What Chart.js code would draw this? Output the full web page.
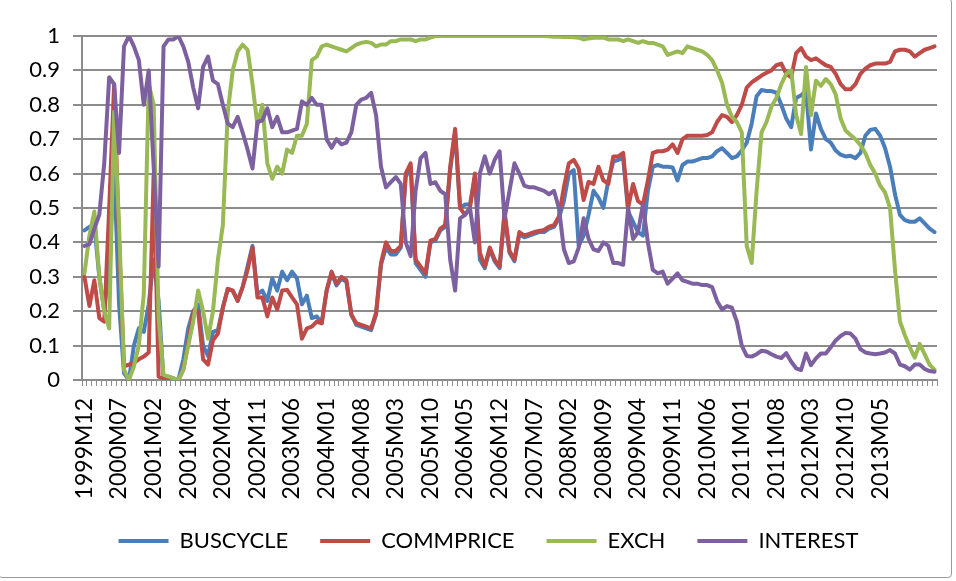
<!DOCTYPE html>
<html>
<head>
<meta charset="utf-8">
<script src="https://cdn.jsdelivr.net/npm/chart.js@4/dist/chart.umd.min.js"></script>
<style>
  html, body { margin: 0; padding: 0; background: #ffffff; }
  #wrap { position: relative; width: 956px; height: 581px; }
  #frame { position: absolute; left: -2px; top: -2px; width: 954px; height: 580px; border: 1px solid #9a9a9a; border-radius: 4px; box-sizing: border-box; pointer-events: none; }
  canvas { position: absolute; left: 0; top: 0; }
</style>
</head>
<body>
<div id="wrap">
  <canvas id="c" width="956" height="581"></canvas>
  <div id="frame"></div>
</div>
<script>
// ---- categories: monthly, 1999M12 .. 2014M04 (173 months) ----
const START_YEAR = 1999;
const START_MONTH = 12;
const N_MONTHS = 173;
const categories = [];
for (let k = 0; k < N_MONTHS; k++) {
  const m0 = START_MONTH - 1 + k;
  const y = START_YEAR + Math.floor(m0 / 12);
  const m = (m0 % 12) + 1;
  categories.push(y + 'M' + (m < 10 ? '0' + m : m));
}

// ---- visible x tick labels ----
const tickLabels = ['1999M12','2000M07','2001M02','2001M09','2002M04','2002M11','2003M06','2004M01',
  '2004M08','2005M03','2005M10','2006M05','2006M12','2007M07','2008M02','2008M09','2009M04',
  '2009M11','2010M06','2011M01','2011M08','2012M03','2012M10','2013M05'];

// ---- y tick values ----
const yTicks = [0,0.1,0.2,0.3,0.4,0.5,0.6,0.7,0.8,0.9,1];

// ---- series ----
const buscycle = [
  0.435,0.445,0.45,0.30,0.20,0.34,0.62,0.22,0.02,0.0,
  0.10,0.15,0.14,0.22,0.35,0.23,0.0,0.01,0.005,0.0,
  0.06,0.15,0.20,0.22,0.10,0.07,0.14,0.145,0.21,0.265,
  0.26,0.23,0.27,0.33,0.39,0.25,0.26,0.23,0.295,0.26,
  0.315,0.29,0.315,0.295,0.22,0.245,0.18,0.185,0.165,0.26,
  0.31,0.275,0.295,0.285,0.19,0.16,0.155,0.15,0.145,0.19,
  0.335,0.385,0.365,0.365,0.385,0.59,0.62,0.34,0.32,0.30,
  0.40,0.405,0.435,0.445,0.61,0.72,0.50,0.51,0.51,0.59,
  0.35,0.325,0.38,0.345,0.325,0.48,0.37,0.345,0.425,0.415,
  0.42,0.425,0.43,0.43,0.44,0.445,0.47,0.52,0.60,0.61,
  0.39,0.42,0.48,0.55,0.53,0.50,0.58,0.635,0.64,0.645,
  0.49,0.46,0.43,0.42,0.55,0.62,0.625,0.62,0.62,0.618,
  0.58,0.625,0.635,0.635,0.64,0.645,0.645,0.65,0.665,0.674,
  0.66,0.645,0.65,0.667,0.69,0.745,0.825,0.843,0.84,0.84,
  0.835,0.80,0.76,0.735,0.82,0.828,0.84,0.67,0.775,0.73,
  0.70,0.69,0.667,0.655,0.65,0.652,0.645,0.66,0.71,0.727,
  0.73,0.71,0.674,0.62,0.54,0.48,0.465,0.46,0.46,0.47,
  0.455,0.44,0.43
];
const commprice = [
  0.30,0.215,0.29,0.18,0.17,0.50,0.86,0.40,0.04,0.045,
  0.05,0.06,0.068,0.08,0.60,0.01,0.005,0.0,0.0,0.0,
  0.03,0.11,0.20,0.20,0.06,0.045,0.115,0.135,0.21,0.265,
  0.26,0.23,0.27,0.32,0.385,0.24,0.24,0.185,0.24,0.205,
  0.26,0.262,0.24,0.22,0.12,0.15,0.155,0.17,0.165,0.26,
  0.315,0.28,0.30,0.29,0.19,0.165,0.16,0.155,0.15,0.195,
  0.34,0.40,0.375,0.375,0.39,0.60,0.63,0.35,0.33,0.31,
  0.405,0.41,0.44,0.45,0.62,0.73,0.50,0.48,0.50,0.60,
  0.37,0.33,0.385,0.35,0.33,0.49,0.375,0.35,0.43,0.42,
  0.425,0.43,0.433,0.436,0.446,0.45,0.475,0.56,0.63,0.64,
  0.615,0.523,0.576,0.57,0.62,0.58,0.57,0.65,0.65,0.66,
  0.50,0.57,0.52,0.51,0.58,0.66,0.665,0.665,0.67,0.685,
  0.66,0.70,0.71,0.71,0.71,0.71,0.712,0.72,0.75,0.77,
  0.765,0.75,0.77,0.80,0.85,0.865,0.875,0.885,0.893,0.90,
  0.915,0.92,0.89,0.88,0.95,0.965,0.94,0.93,0.935,0.925,
  0.915,0.91,0.89,0.86,0.845,0.845,0.86,0.89,0.905,0.915,
  0.92,0.92,0.92,0.925,0.955,0.96,0.96,0.955,0.94,0.95,
  0.96,0.965,0.97
];
const exch = [
  0.31,0.42,0.49,0.30,0.20,0.15,0.78,0.45,0.03,0.0,
  0.04,0.10,0.25,0.86,0.80,0.18,0.015,0.01,0.005,0.0,
  0.03,0.10,0.17,0.26,0.20,0.12,0.20,0.35,0.45,0.78,
  0.90,0.955,0.975,0.96,0.86,0.74,0.80,0.63,0.585,0.62,
  0.60,0.67,0.66,0.71,0.71,0.745,0.93,0.94,0.97,0.975,
  0.97,0.965,0.96,0.955,0.965,0.975,0.98,0.983,0.98,0.97,
  0.975,0.975,0.985,0.985,0.99,0.99,0.99,0.985,0.99,0.99,
  0.995,1.0,1.0,1.0,1.0,1.0,1.0,1.0,1.0,1.0,
  1.0,1.0,1.0,1.0,1.0,1.0,1.0,1.0,1.0,1.0,
  1.0,1.0,1.0,1.0,0.999,0.998,0.998,0.997,0.997,0.996,
  0.995,0.99,0.993,0.995,0.995,0.995,0.99,0.99,0.99,0.985,
  0.99,0.985,0.98,0.985,0.98,0.98,0.975,0.97,0.945,0.95,
  0.955,0.95,0.97,0.965,0.96,0.955,0.945,0.93,0.90,0.865,
  0.80,0.765,0.75,0.72,0.39,0.34,0.55,0.72,0.75,0.795,
  0.82,0.86,0.89,0.90,0.77,0.715,0.91,0.77,0.87,0.855,
  0.875,0.86,0.83,0.76,0.725,0.712,0.70,0.683,0.66,0.625,
  0.60,0.565,0.545,0.50,0.32,0.17,0.13,0.095,0.065,0.105,
  0.075,0.045,0.03
];
const interest = [
  0.39,0.395,0.44,0.48,0.63,0.88,0.86,0.66,0.97,1.0,
  0.97,0.93,0.80,0.90,0.62,0.33,0.97,0.99,0.99,1.0,
  0.97,0.925,0.85,0.79,0.91,0.94,0.87,0.86,0.80,0.745,
  0.735,0.765,0.72,0.67,0.615,0.75,0.755,0.79,0.735,0.765,
  0.72,0.72,0.725,0.73,0.81,0.80,0.82,0.80,0.80,0.70,
  0.675,0.70,0.685,0.69,0.72,0.80,0.815,0.82,0.835,0.77,
  0.62,0.56,0.575,0.59,0.57,0.40,0.36,0.55,0.645,0.66,
  0.57,0.575,0.55,0.54,0.35,0.26,0.47,0.48,0.50,0.40,
  0.60,0.65,0.60,0.64,0.665,0.47,0.55,0.63,0.60,0.565,
  0.56,0.56,0.555,0.55,0.54,0.55,0.50,0.38,0.34,0.345,
  0.385,0.47,0.41,0.38,0.375,0.40,0.39,0.34,0.34,0.335,
  0.50,0.41,0.43,0.51,0.40,0.32,0.31,0.315,0.28,0.295,
  0.31,0.29,0.285,0.28,0.28,0.276,0.276,0.27,0.23,0.205,
  0.215,0.21,0.17,0.10,0.07,0.068,0.075,0.085,0.083,0.075,
  0.068,0.064,0.078,0.053,0.034,0.029,0.077,0.043,0.063,0.077,
  0.077,0.095,0.115,0.128,0.137,0.135,0.12,0.09,0.08,0.077,
  0.075,0.077,0.08,0.087,0.077,0.045,0.04,0.03,0.045,0.045,
  0.032,0.026,0.024
];

const seriesNames = ['BUSCYCLE','COMMPRICE','EXCH','INTEREST'];
const seriesColors = ['#4a7ebb','#be4b48','#98b954','#7d60a0'];
const seriesData = [buscycle, commprice, exch, interest];

const FONT = 'Lato, "Open Sans", sans-serif';
const GRID = '#8c8c8c';

const datasets = seriesData.map((d, k) => ({
  label: seriesNames[k],
  data: d,
  borderColor: seriesColors[k],
  backgroundColor: seriesColors[k],
  borderWidth: 4,
  pointRadius: 0,
  pointHoverRadius: 0,
  tension: 0,
  fill: false,
  borderJoinStyle: 'round',
  borderCapStyle: 'round',
  order: seriesData.length - k
}));

// shifts the legend box a little (layout only)
const legendShift = {
  id: 'legendShift',
  afterLayout(chart) {
    const lg = chart.legend;
    if (!lg) return;
    lg.left += 20; lg.right += 20;
    lg.top -= 2; lg.bottom -= 2;
  }
};

new Chart(document.getElementById('c'), {
  type: 'line',
  data: { labels: categories, datasets },
  plugins: [legendShift],
  options: {
    responsive: false,
    animation: false,
    events: [],
    layout: { padding: { top: 36, right: 19, bottom: 17, left: 0 } },
    plugins: {
      tooltip: { enabled: false },
      legend: {
        position: 'bottom',
        labels: {
          sort: (a, b) => a.datasetIndex - b.datasetIndex,
          boxWidth: 50,
          boxHeight: 4,
          padding: 32,
          color: '#000',
          font: { family: FONT, size: 22 },
          generateLabels: (chart) => chart.data.datasets.map((ds, i) => ({
            text: ds.label, fillStyle: ds.borderColor, strokeStyle: ds.borderColor,
            lineWidth: 0, hidden: false, datasetIndex: i
          }))
        }
      }
    },
    scales: {
      x: {
        type: 'category',
        offset: true,
        afterFit: (s) => { s.height = 120; s.paddingLeft = 0; s.paddingRight = 0; },
        grid: { drawOnChartArea: false, drawTicks: true, tickLength: 6, offset: true, color: GRID, lineWidth: 1 },
        border: { display: true, color: GRID, width: 2 },
        ticks: {
          autoSkip: false,
          minRotation: 90,
          maxRotation: 90,
          padding: 12,
          color: '#000',
          font: { family: FONT, size: 23 },
          callback: function (val, idx) {
            const lab = categories[idx];
            return tickLabels.includes(lab) ? lab : '';
          }
        }
      },
      y: {
        min: 0,
        max: 1,
        afterFit: (s) => { s.width = 82; },
        afterBuildTicks: (s) => { s.ticks = yTicks.map(v => ({ value: v })); },
        grid: { color: GRID, lineWidth: 2, tickLength: 9, drawTicks: true },
        border: { display: true, color: GRID, width: 2 },
        ticks: {
          padding: 13,
          color: '#000',
          font: { family: FONT, size: 22 },
          callback: (v) => String(+(+v).toFixed(1))
        }
      }
    }
  }
});
</script>
</body>
</html>
